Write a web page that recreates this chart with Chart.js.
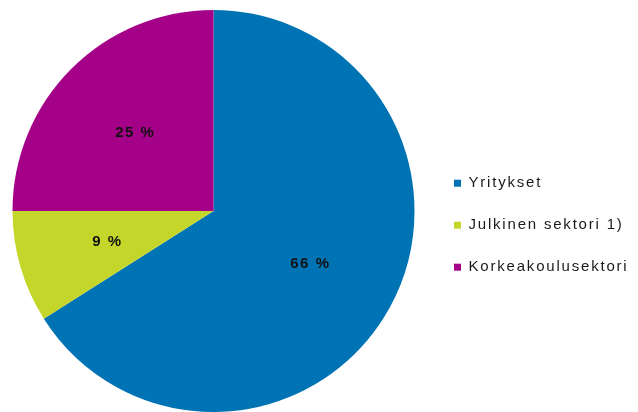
<html>
  <head>
    <title>T&amp;K-menot sektoreittain</title>
    <script src="https://cdn.jsdelivr.net/npm/chart.js@4.4.0/dist/chart.umd.min.js"></script>
    <style>
      body { margin: 0; background: #fff; }
      #wrap { width: 638px; height: 412px; }
    </style>
  </head>
  <body>
    <div id="wrap"><canvas id="pie-chart"></canvas></div>
  </body>
  <script>
    // data
    var sectors = ["Yritykset", "Julkinen sektori 1)", "Korkeakoulusektori"];
    var shares = [66, 9, 25];
    var colours = ["#0073b4", "#c5d62a", "#a50088"];

    // wider letter spacing like the original, set before every layout
    var spacing = {
      id: 'spacing',
      beforeLayout: function (chart) { chart.ctx.letterSpacing = '1.8px'; },
      beforeDraw: function (chart) { chart.ctx.letterSpacing = '1.8px'; }
    };

    // percent labels inside the slices
    var sliceLabels = {
      id: 'sliceLabels',
      afterDatasetsDraw: function (chart) {
        var ctx = chart.ctx;
        var meta = chart.getDatasetMeta(0);
        ctx.save();
        ctx.letterSpacing = '1.5px';
        ctx.font = "bold 15px 'Liberation Sans', Arial, sans-serif";
        ctx.fillStyle = '#111';
        ctx.textAlign = 'center';
        ctx.textBaseline = 'middle';
        for (var i = 0; i < meta.data.length; i++) {
          var arc = meta.data[i];
          var mid = (arc.startAngle + arc.endAngle) / 2;
          var r = arc.outerRadius * 0.55;
          ctx.fillText(shares[i] + ' %', arc.x + Math.cos(mid) * r, arc.y + Math.sin(mid) * r);
        }
        ctx.restore();
      }
    };

    new Chart(document.getElementById("pie-chart"), {
      type: 'pie',
      data: {
        labels: sectors,
        datasets: [{
          data: shares,
          backgroundColor: colours,
          borderWidth: 0
        }]
      },
      options: {
        responsive: true,
        maintainAspectRatio: false,
        animation: false,
        layout: { padding: { top: 10, bottom: 0, left: 0, right: 0 } },
        plugins: {
          tooltip: { enabled: false },
          legend: {
            position: 'right',
            align: 'center',
            maxWidth: 211,
            title: { display: true, text: ' ', padding: 7, font: { size: 12 } },
            labels: {
              boxWidth: 7,
              boxHeight: 7,
              padding: 27,
              color: '#1a1a1a',
              font: { family: "'Liberation Sans', Arial, sans-serif", size: 15 }
            }
          }
        }
      },
      plugins: [spacing, sliceLabels]
    });
  </script>
</html>
